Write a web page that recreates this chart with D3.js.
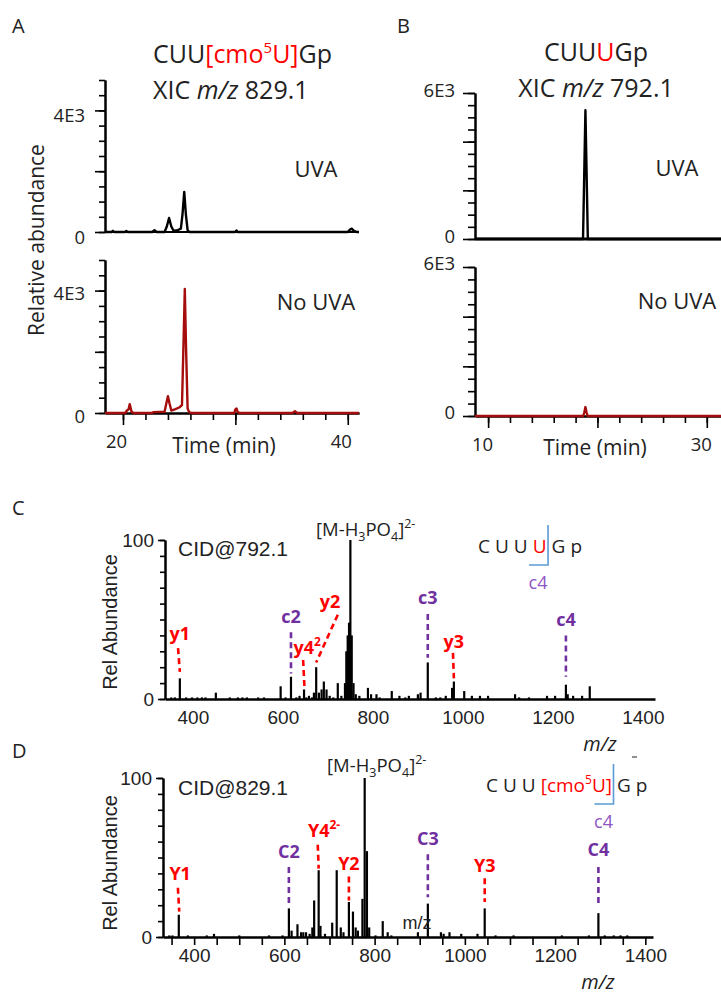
<!DOCTYPE html>
<html>
<head>
<meta charset="utf-8">
<script src="https://cdn.jsdelivr.net/npm/d3@7"></script>
<style>
  body { margin: 0; background: #fff; }
  svg { display: block; }
  text { font-family: 'Open Sans', sans-serif; }
</style>
</head>
<body>
<div id="container"></div>
<script>
const W = 721
const H = 994

const red = '#ff0000'
const purple = '#7030a0'
const lightPurple = '#8e55c4'
const darkRed = '#a50d0d'
const blue = '#5b9bd5'
const arial = "'Liberation Sans', Arial, sans-serif"

// A: XIC m/z 829.1, CUU[cmo5U]Gp   [time (min), intensity]
const xicModUva = [[18.4, 0], [19.0, 0], [19.1, 40], [19.2, 0], [20.2, 0], [20.3, 35], [20.4, 0],
  [22.6, 0], [22.8, 60], [23.0, 0], [23.7, 0], [23.9, 180], [24.1, 460], [24.3, 180], [24.5, 40],
  [24.8, 50], [25.15, 110], [25.3, 600], [25.45, 1320], [25.6, 560], [25.75, 60], [25.9, 0],
  [30.0, 0], [30.1, 50], [30.2, 0], [40.0, 0], [40.2, 80], [40.35, 110], [40.55, 40], [40.8, 0], [41, 0]]
const xicModNoUva = [[18.4, 0], [20.2, 0], [20.35, 80], [20.5, 120], [20.6, 290], [20.75, 60], [20.9, 0],
  [22.6, 0], [22.7, 30], [23.7, 40], [23.85, 300], [24.0, 550], [24.15, 300], [24.3, 80], [24.6, 120],
  [25.0, 180], [25.25, 260], [25.4, 2500], [25.5, 4050], [25.62, 2000], [25.75, 150], [25.9, 20], [26.1, 0],
  [29.9, 0], [30.0, 120], [30.1, 150], [30.2, 40], [30.35, 0], [35.1, 0], [35.3, 60], [35.5, 0], [41, 0]]

// B: XIC m/z 792.1, CUUUGp
const xicUnmodUva = [[8.8, 0], [18.68, 0], [18.9, 5290], [19.12, 0], [31.3, 0]]
const xicUnmodNoUva = [[8.8, 0], [18.7, 0], [18.8, 150], [18.9, 360], [19.0, 150], [19.1, 0], [31.3, 0]]

const xicTimeTicks = [10, 12, 14, 16, 18, 20, 22, 24, 26, 28, 30, 32, 34, 36, 38, 40]

// C: CID@792.1
const cidMz792 = [352, 360, 371, 385, 398, 410, 420, 428, 451, 482, 500, 510, 520, 545, 558, 595, 606, 618, 630, 637,
  647, 652, 658, 665, 669, 674, 680, 686, 691, 697, 704, 712, 722, 730, 738, 741, 744, 747, 750, 753, 757, 762,
  770, 789, 796, 808, 815, 842, 859, 872, 880, 900, 906, 922, 940, 950, 962, 976, 980, 1003, 1020, 1038, 1056,
  1116, 1125, 1147, 1187, 1205, 1229, 1233, 1245, 1265, 1282]
const cidAb792 = [1, 1, 13, 1, 1, 1, 1, 1, 4, 1, 1, 1, 1, 1, 1, 8, 1, 14, 1, 2,
  6, 1, 2, 1, 4, 20, 4, 6, 11, 6, 2, 1, 10, 2, 10, 30, 40, 48, 100, 40, 10, 3,
  2, 7, 3, 3, 1, 5, 2, 1, 2, 3, 4, 23, 1, 1, 2, 7, 11, 5, 2, 2, 2,
  3, 1, 1, 2, 2, 9, 3, 2, 2, 8]

// D: CID@829.1
const cidMz829 = [345, 352, 366, 386, 428, 444, 500, 566, 596, 610, 616, 629, 637, 642, 648, 656, 662, 666, 676, 680,
  690, 706, 716, 725, 731, 743, 752, 758, 763, 773, 778, 783, 788, 802, 818, 829, 837, 896, 918, 947, 953, 966,
  992, 1028, 1044, 1068, 1108, 1215, 1275, 1296, 1310, 1330, 1345, 1360]
const cidAb829 = [1, 1, 14, 1, 1, 2, 1, 1, 1, 18, 4, 8, 3, 3, 3, 2, 6, 23, 42, 7,
  2, 9, 42, 6, 3, 22, 16, 6, 4, 24, 100, 54, 6, 1, 10, 3, 1, 3, 21, 3, 2, 3,
  2, 2, 18, 1, 1, 1, 1, 15, 1, 1, 1, 1]

const mzLabels = [400, 600, 800, 1000, 1200, 1400]
const mzTicks = d3.range(350, 1401, 50)
const relTicks = [0, 10, 20, 30, 40, 50, 60, 70, 80, 90, 100]

// fragment labels: label m/z and level, dashed leader from [m/z, level] to [m/z, level]
const ions792 = [
  { ion: 'y1', sup: '', mz: 371, at: 37, from: [367, 32], to: [371, 17] },
  { ion: 'c2', sup: '', mz: 618, at: 48, from: [618, 42], to: [618, 16] },
  { ion: 'y4', sup: '2', mz: 654, at: 28, from: [645, 24.5], to: [648, 7] },
  { ion: 'y2', sup: '', mz: 705, at: 57, from: [722, 53], to: [674, 23] },
  { ion: 'c3', sup: '', mz: 922, at: 60, from: [922, 53.5], to: [922, 26] },
  { ion: 'y3', sup: '', mz: 980, at: 32, from: [978, 29], to: [980, 13] },
  { ion: 'c4', sup: '', mz: 1229, at: 46, from: [1229, 40], to: [1229, 14] }
]
const ions829 = [
  { ion: 'Y1', sup: '', mz: 369, at: 36, from: [364, 31], to: [367, 16] },
  { ion: 'C2', sup: '', mz: 610, at: 50, from: [610, 44], to: [610, 19] },
  { ion: 'Y4', sup: '2-', mz: 688, at: 63, from: [674, 58], to: [676, 43] },
  { ion: 'Y2', sup: '', mz: 743, at: 42, from: [743, 38], to: [743, 23] },
  { ion: 'C3', sup: '', mz: 918, at: 58, from: [918, 52], to: [918, 25] },
  { ion: 'Y3', sup: '', mz: 1044, at: 41, from: [1044, 37], to: [1044, 22] },
  { ion: 'C4', sup: '', mz: 1296, at: 51, from: [1296, 44], to: [1296, 19] }
]

const seq792 = ['C', 'U', 'U', 'U', 'G', 'p']
const seq829 = ['C', 'U', 'U', '[cmo5U]', 'G', 'p']

var svg = d3.select('#container')
  .append('svg')
  .attr('width', W)
  .attr('height', H)

function styleAxis(g, size) {
  g.attr('font-family', null).attr('font-size', null)
  g.select('.domain').attr('stroke-width', 2)
  g.selectAll('.tick line').attr('stroke-width', 1.6)
  g.selectAll('.tick text').style('font-size', size).attr('fill', '#222')
}

function leftAxis(x0, y, minor, major, fmt, dy, size, minorLen, majorLen) {
  svg.append('g')
    .attr('transform', 'translate(' + x0 + ',0)')
    .call(d3.axisLeft(y).tickValues(minor).tickSize(minorLen).tickFormat('').tickSizeOuter(0))
    .call(styleAxis, size)
  var g = svg.append('g')
    .attr('transform', 'translate(' + x0 + ',0)')
    .call(d3.axisLeft(y).tickValues(major).tickSize(majorLen).tickPadding(20 - majorLen).tickFormat(fmt).tickSizeOuter(0))
    .call(styleAxis, size)
  g.selectAll('.tick text').attr('dy', dy)
  return g
}

function baseline(x, y0, width) {
  svg.append('line')
    .attr('x1', x.range()[0]).attr('x2', x.range()[1])
    .attr('y1', y0).attr('y2', y0)
    .attr('stroke', '#000').attr('stroke-width', width)
}

function trace(data, x, y, color, width) {
  svg.append('path')
    .datum(data)
    .attr('fill', 'none')
    .attr('stroke', color)
    .attr('stroke-width', width)
    .attr('stroke-linejoin', 'round')
    .attr('d', d3.line().x(d => x(d[0])).y(d => y(d[1])))
}

function label(x, y, txt, size, anchor) {
  return svg.append('text')
    .attr('x', x).attr('y', y)
    .attr('text-anchor', anchor || 'start')
    .style('font-size', size)
    .attr('fill', '#222')
    .text(txt)
}

// ---------- panel A ----------
var xA = d3.scaleLinear().domain([18.4, 41]).range([105, 359])
var yA1 = d3.scaleLinear().domain([0, 5000]).range([232, 80])
var yA2 = d3.scaleLinear().domain([0, 5000]).range([413, 260])
var fmtA = function (d) { return d === 0 ? '0' : (d === 4000 ? '4E3' : '') }
var fmtB = function (d) { return d === 0 ? '0' : (d === 6000 ? '6E3' : '') }

leftAxis(105, yA1, d3.range(0, 5001, 500), [0, 2000, 4000], fmtA, '0.6em', '18.5px', 6, 10)
leftAxis(105, yA2, d3.range(0, 5001, 500), [0, 2000, 4000], fmtA, '0.5em', '18.5px', 6, 10)
baseline(xA, yA1(0), 2)

svg.append('g')
  .attr('transform', 'translate(0,' + yA2(0) + ')')
  .call(d3.axisBottom(xA).tickValues(xicTimeTicks.filter(t => t >= 20)).tickSize(7).tickFormat('').tickSizeOuter(0))
  .call(styleAxis, '18.5px')
var axA2 = svg.append('g')
  .attr('transform', 'translate(0,' + yA2(0) + ')')
  .call(d3.axisBottom(xA).tickValues([20, 30, 40]).tickSize(12).tickPadding(10).tickFormat(d => d === 30 ? '' : d).tickSizeOuter(0))
  .call(styleAxis, '18.5px')
axA2.selectAll('.tick text').attr('x', -7)

trace(xicModUva, xA, yA1, '#000', 2.4)
trace(xicModNoUva, xA, yA2, darkRed, 2.4)

svg.append('text').attr('x', 12).attr('y', 33).style('font-size', '20px').attr('fill', '#222').text('A')
var tA = svg.append('text').attr('x', 153).attr('y', 63).style('font-size', '25px').attr('fill', '#222')
tA.append('tspan').text('CUU')
tA.append('tspan').attr('fill', red).text('[cmo')
tA.append('tspan').attr('fill', red).attr('dy', -10).style('font-size', '15px').text('5')
tA.append('tspan').attr('fill', red).attr('dy', 10).text('U]')
tA.append('tspan').text('Gp')
var tA2 = svg.append('text').attr('x', 153).attr('y', 99).style('font-size', '25px').attr('fill', '#222')
tA2.append('tspan').text('XIC ')
tA2.append('tspan').style('font-style', 'italic').text('m/z')
tA2.append('tspan').text(' 829.1')

label(316, 177, 'UVA', '22px', 'middle')
label(316, 310, 'No UVA', '22px', 'middle')
label(224, 453, 'Time (min)', '21px', 'middle')
svg.append('text')
  .attr('transform', 'translate(44,240) rotate(-90)')
  .attr('text-anchor', 'middle')
  .style('font-size', '21px')
  .attr('fill', '#222')
  .text('Relative abundance')

// ---------- panel B ----------
var xB = d3.scaleLinear().domain([8.8, 31.3]).range([475, 721])
var yB1 = d3.scaleLinear().domain([0, 6000]).range([239, 93])
var yB2 = d3.scaleLinear().domain([0, 6000]).range([416, 267])

leftAxis(475, yB1, d3.range(0, 6001, 500), [0, 2000, 4000, 6000], fmtB, '0.2em', '18.5px', 7, 12)
leftAxis(475, yB2, d3.range(0, 6001, 500), [0, 2000, 4000, 6000], fmtB, '0.15em', '18.5px', 7, 12)
baseline(xB, yB1(0), 3)

svg.append('g')
  .attr('transform', 'translate(0,' + yB2(0) + ')')
  .call(d3.axisBottom(xB).tickValues(xicTimeTicks.filter(t => t <= 30)).tickSize(7).tickFormat('').tickSizeOuter(0))
  .call(styleAxis, '18.5px')
var axB2 = svg.append('g')
  .attr('transform', 'translate(0,' + yB2(0) + ')')
  .call(d3.axisBottom(xB).tickValues([10, 20, 30]).tickSize(12).tickPadding(10).tickFormat(d => d === 20 ? '' : d).tickSizeOuter(0))
  .call(styleAxis, '18.5px')
axB2.selectAll('.tick text').attr('x', -6)

trace(xicUnmodUva, xB, yB1, '#000', 2.4)
trace(xicUnmodNoUva, xB, yB2, darkRed, 2.4)

svg.append('text').attr('x', 397).attr('y', 33).style('font-size', '20px').attr('fill', '#222').text('B')
var tB = svg.append('text').attr('x', 596).attr('y', 61).attr('text-anchor', 'middle').style('font-size', '25px').attr('fill', '#222')
tB.append('tspan').text('CUU')
tB.append('tspan').attr('fill', red).text('U')
tB.append('tspan').text('Gp')
var tB2 = svg.append('text').attr('x', 596).attr('y', 97).attr('text-anchor', 'middle').style('font-size', '25px').attr('fill', '#222')
tB2.append('tspan').text('XIC ')
tB2.append('tspan').style('font-style', 'italic').text('m/z')
tB2.append('tspan').text(' 792.1')

label(677, 176, 'UVA', '22px', 'middle')
label(677, 309, 'No UVA', '22px', 'middle')
label(595, 455, 'Time (min)', '21px', 'middle')

// ---------- spectra ----------
function spectrum(cfg) {
  var x = cfg.x
  var y = cfg.y
  var y0 = y(0)

  svg.append('g')
    .attr('transform', 'translate(' + x.range()[0] + ',0)')
    .call(d3.axisLeft(y).tickValues(relTicks).tickSize(5).tickFormat('').tickSizeOuter(0))
    .call(styleAxis, '19px')
  var gl = svg.append('g')
    .attr('transform', 'translate(' + x.range()[0] + ',0)')
    .call(d3.axisLeft(y).tickValues([0, 100]).tickSize(7).tickPadding(4).tickFormat(d => d).tickSizeOuter(0))
    .call(styleAxis, '19px')
  gl.selectAll('.tick text').style('font-family', arial)

  var gx = svg.append('g')
    .attr('transform', 'translate(0,' + y0 + ')')
    .call(d3.axisBottom(x).tickValues(cfg.ticks ? mzTicks : []).tickSize(cfg.ticks ? 8 : 0).tickFormat('').tickSizeOuter(0))
    .call(styleAxis, '19px')
  gx.select('.domain').attr('stroke-width', 2.5)
  var gxl = svg.append('g')
    .attr('transform', 'translate(0,' + y0 + ')')
    .call(d3.axisBottom(x).tickValues(mzLabels).tickSize(0).tickFormat(d => d).tickSizeOuter(0))
    .call(styleAxis, '19px')
  gxl.select('.domain').remove()
  gxl.selectAll('.tick text').attr('y', 12).style('font-family', arial)

  svg.append('g')
    .selectAll('line')
    .data(d3.zip(cfg.mz, cfg.ab))
    .join('line')
    .attr('x1', d => x(d[0])).attr('x2', d => x(d[0]))
    .attr('y1', y0).attr('y2', d => y(d[1]))
    .attr('stroke', '#000')
    .attr('stroke-width', 2.2)

  cfg.ions.forEach(function (d) {
    var c = /^[cC]/.test(d.ion) ? purple : red
    svg.append('line')
      .attr('x1', x(d.from[0])).attr('y1', y(d.from[1]))
      .attr('x2', x(d.to[0])).attr('y2', y(d.to[1]))
      .attr('stroke', c)
      .attr('stroke-width', 2.6)
      .attr('stroke-dasharray', '6,4')
    var t = svg.append('text')
      .attr('x', x(d.mz)).attr('y', y(d.at))
      .attr('text-anchor', 'middle')
      .style('font-size', '18px')
      .style('font-weight', 'bold')
      .attr('fill', c)
    t.append('tspan').text(d.ion)
    if (d.sup) t.append('tspan').attr('dy', -8).style('font-size', '12px').text(d.sup)
  })

  svg.append('text')
    .attr('transform', 'translate(117,' + cfg.titleY + ') rotate(-90)')
    .attr('text-anchor', 'middle')
    .style('font-size', '20px')
    .style('font-family', arial)
    .attr('fill', '#222')
    .text('Rel Abundance')

  svg.append('text')
    .attr('x', 178).attr('y', y0 + cfg.cidDy)
    .style('font-size', '21px')
    .style('font-family', arial)
    .attr('fill', '#222')
    .text(cfg.cid)

  var m = svg.append('text')
    .attr('x', cfg.precX).attr('y', y0 + cfg.precDy)
    .style('font-size', '18.5px')
    .attr('fill', '#222')
  m.append('tspan').text('[M-H')
  m.append('tspan').attr('dy', 5).style('font-size', '12.5px').text('3')
  m.append('tspan').attr('dy', -5).text('PO')
  m.append('tspan').attr('dy', 5).style('font-size', '12.5px').text('4')
  m.append('tspan').attr('dy', -5).text(']')
  m.append('tspan').attr('dy', -8).style('font-size', '12.5px').text('2-')

  // sequence with c4 cleavage bracket
  var cx = cfg.seqX
  var gap = 5
  var cut
  cfg.seq.forEach(function (r, i) {
    var t = svg.append('text')
      .attr('x', cx).attr('y', y0 + cfg.seqDy)
      .style('font-size', '19px')
      .attr('fill', i === 3 ? red : '#222')
    if (r.indexOf('cmo5') > -1) {
      t.append('tspan').text('[cmo')
      t.append('tspan').attr('dy', -8).style('font-size', '12px').text('5')
      t.append('tspan').attr('dy', 8).text('U]')
    } else {
      t.text(r)
    }
    cx += t.node().getComputedTextLength() + gap
    if (i === 3) cut = cx - gap / 2 - 1
  })
  var sy = y0 + cfg.seqDy
  svg.append('path')
    .attr('d', 'M' + cut + ',' + (sy - 28) + 'V' + (sy + 12) + 'H' + (cut - 19))
    .attr('fill', 'none')
    .attr('stroke', blue)
    .attr('stroke-width', 1.6)
  svg.append('text')
    .attr('x', cut - 10).attr('y', sy + 36)
    .attr('text-anchor', 'middle')
    .style('font-size', '18px')
    .attr('fill', lightPurple)
    .text('c4')
}

var xC = d3.scaleLinear().domain([338, 1427]).range([165, 655])
var yC = d3.scaleLinear().domain([0, 100]).range([699, 540])
spectrum({ x: xC, y: yC, mz: cidMz792, ab: cidAb792, ions: ions792, ticks: false, titleY: 622,
  cid: 'CID@792.1', cidDy: -143, precX: 316, precDy: -163, seq: seq792, seqX: 478, seqDy: -146 })

var xD = d3.scaleLinear().domain([331, 1417]).range([163, 653])
var yD = d3.scaleLinear().domain([0, 100]).range([937, 778])
spectrum({ x: xD, y: yD, mz: cidMz829, ab: cidAb829, ions: ions829, ticks: true, titleY: 863,
  cid: 'CID@829.1', cidDy: -142, precX: 327, precDy: -165, seq: seq829, seqX: 486, seqDy: -145 })

svg.append('text').attr('x', 12).attr('y', 515).style('font-size', '20px').attr('fill', '#222').text('C')
svg.append('text').attr('x', 12).attr('y', 758).style('font-size', '20px').attr('fill', '#222').text('D')

// axis titles of the spectra
svg.append('text').attr('x', 600).attr('y', 751).attr('text-anchor', 'middle')
  .style('font-size', '20px').style('font-style', 'italic').attr('fill', '#222').text('m/z')
svg.append('line').attr('x1', 632).attr('x2', 637).attr('y1', 757).attr('y2', 757).attr('stroke', '#444').attr('stroke-width', 1.2)
svg.append('text').attr('x', 598).attr('y', 989).attr('text-anchor', 'middle')
  .style('font-size', '20px').style('font-style', 'italic').attr('fill', '#222').text('m/z')
svg.append('text').attr('x', 417).attr('y', 929).attr('text-anchor', 'middle')
  .style('font-size', '18px').style('font-family', arial).attr('fill', '#222').text('m/z')
</script>
</body>
</html>
